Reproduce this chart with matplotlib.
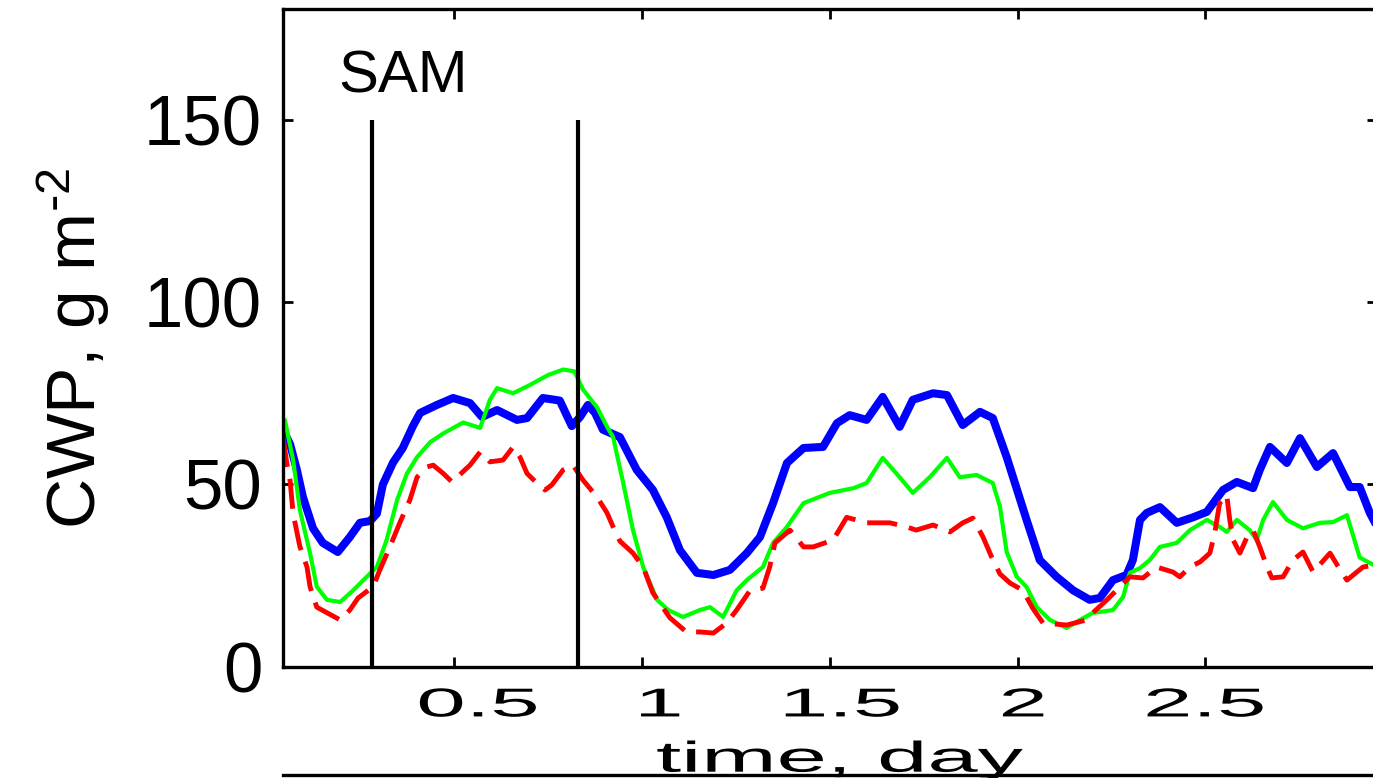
import matplotlib
matplotlib.use('Agg')
from matplotlib import pyplot as plt
from matplotlib.lines import Line2D
from matplotlib.patheffects import AbstractPathEffect
from matplotlib.transforms import Affine2D, ScaledTranslation

plt.rcParams['font.family'] = ['Liberation Sans', 'DejaVu Sans']
plt.rcParams['mathtext.default'] = 'regular'

# cloud water path (g m^-2) against time (days)
t_blue = [0.044, 0.063, 0.081, 0.097, 0.124, 0.150, 0.190, 0.222, 0.249, 0.276,
          0.294, 0.310, 0.337, 0.363, 0.390, 0.409, 0.454, 0.497, 0.542, 0.574,
          0.614, 0.667, 0.694, 0.736, 0.781, 0.813, 0.835, 0.856, 0.875, 0.896,
          0.941, 0.986, 1.029, 1.066, 1.101, 1.146, 1.190, 1.234, 1.279, 1.314,
          1.349, 1.386, 1.430, 1.482, 1.519, 1.553, 1.598, 1.641, 1.686, 1.721,
          1.775, 1.812, 1.854, 1.900, 1.934, 1.971, 1.988, 2.024, 2.059, 2.104,
          2.148, 2.192, 2.219, 2.254, 2.290, 2.307, 2.326, 2.344, 2.379, 2.424,
          2.467, 2.504, 2.547, 2.584, 2.627, 2.645, 2.672, 2.717, 2.752, 2.797,
          2.840, 2.885, 2.911, 2.938, 2.957]
cwp_blue = [65, 61, 54, 46.6, 38, 34, 31.5, 35.6, 39.5, 40,
            42, 50, 56, 60, 66, 69.6, 71.8, 73.7, 72.3, 68.5,
            70.4, 67.7, 68.2, 73.7, 73, 66, 68.5, 71.8, 69.6, 65,
            63, 54, 48.5, 41, 32, 25.8, 25.2, 26.6, 31.2, 35.6,
            44.9, 55.9, 60, 60.3, 66.8, 69, 67.7, 74, 65.8, 73.2,
            75, 74.5, 66.3, 69.9, 68.2, 57.5, 52, 40.3, 29.3, 24.7,
            21, 18.4, 18.9, 23.8, 25.2, 29.3, 40.3, 42.2, 43.8, 39.5,
            41, 42.5, 48.5, 50.7, 49, 54, 60.3, 55.9, 62.7, 54.8,
            58.6, 49.3, 49.3, 42.2, 38.5]

t_green = [0.044, 0.049, 0.071, 0.089, 0.116, 0.134, 0.161, 0.196, 0.231, 0.267,
           0.294, 0.320, 0.348, 0.374, 0.401, 0.436, 0.471, 0.524, 0.569, 0.595,
           0.614, 0.657, 0.702, 0.750, 0.790, 0.820, 0.843, 0.880, 0.907, 0.923,
           0.950, 0.976, 1.003, 1.040, 1.070, 1.109, 1.154, 1.181, 1.216, 1.252,
           1.279, 1.322, 1.349, 1.386, 1.430, 1.500, 1.563, 1.598, 1.641, 1.686,
           1.721, 1.766, 1.812, 1.846, 1.891, 1.934, 1.953, 1.971, 1.998, 2.024,
           2.051, 2.086, 2.131, 2.166, 2.200, 2.254, 2.281, 2.299, 2.326, 2.352,
           2.379, 2.424, 2.459, 2.504, 2.538, 2.557, 2.584, 2.618, 2.637, 2.654,
           2.680, 2.717, 2.760, 2.805, 2.840, 2.877, 2.911, 2.938, 2.957]
cwp_green = [68, 67.7, 56.7, 43, 31.2, 22, 18.4, 17.8, 21, 24.7,
             27.4, 34.8, 45.8, 53, 57.5, 61.6, 64, 67, 65.5, 73.2,
             76.4, 75, 77.3, 80, 81.5, 81, 76, 71.2, 65.8, 63,
             50.4, 37.5, 27.4, 18.4, 15.6, 13.7, 15.6, 16.4, 13.7, 21,
             23.8, 27.4, 34, 38.4, 44.9, 47.7, 49, 50.4, 57.3, 52,
             47.7, 52, 57.3, 52, 52.6, 50.4, 44, 31.5, 24.7, 21.9,
             16.4, 12.9, 10.7, 12.9, 14.8, 15.6, 19.2, 25.8, 27.1, 29.3,
             32.9, 34, 37.5, 40.3, 38.4, 37, 40.3, 37.5, 34.8, 40.3,
             45.2, 40.3, 38, 39.5, 39.7, 41.6, 30, 28.5, 27.5]

t_red = [0.044, 0.054, 0.063, 0.071, 0.089, 0.108, 0.116, 0.134, 0.148, 0.196,
         0.222, 0.244, 0.284, 0.302, 0.329, 0.355, 0.382, 0.401, 0.427, 0.444,
         0.471, 0.494, 0.542, 0.569, 0.595, 0.630, 0.657, 0.675, 0.694, 0.720,
         0.742, 0.760, 0.790, 0.816, 0.843, 0.880, 0.907, 0.923, 0.941, 0.976,
         1.003, 1.029, 1.074, 1.118, 1.154, 1.190, 1.225, 1.252, 1.288, 1.322,
         1.340, 1.354, 1.394, 1.430, 1.456, 1.509, 1.545, 1.598, 1.660, 1.704,
         1.730, 1.775, 1.820, 1.854, 1.881, 1.908, 1.931, 1.953, 1.980, 2.014,
         2.041, 2.068, 2.131, 2.184, 2.200, 2.238, 2.272, 2.299, 2.334, 2.370,
         2.414, 2.432, 2.459, 2.486, 2.512, 2.525, 2.538, 2.557, 2.565, 2.574,
         2.592, 2.611, 2.627, 2.645, 2.664, 2.677, 2.707, 2.733, 2.760, 2.787,
         2.832, 2.859, 2.877, 2.920, 2.957]
cwp_red = [63, 56, 51, 42, 33, 27.4, 22, 16.4, 15.6, 12.9,
           15.6, 18.9, 22, 26.6, 33, 39.5, 45.8, 52, 54.8, 55.3,
           53, 50.7, 55.3, 58.9, 56.2, 56.7, 60.3, 57.5, 53, 50.4,
           48.5, 49.9, 54, 55.3, 51.2, 46.6, 42.2, 38.4, 34.5, 31.2,
           27.4, 20.3, 13.5, 9.6, 9.6, 9.3, 12, 15.6, 21, 21.6,
           27.4, 34, 37.5, 32.9, 32.9, 34.8, 41, 39.5, 39.5, 38.4,
           37.5, 38.9, 37, 39.5, 40.8, 35.6, 30.1, 25.5, 23, 21,
           16, 12, 11.5, 12.9, 14.8, 18.4, 21.9, 24.7, 24.4, 27.4,
           26, 24.7, 27.4, 28.8, 31.2, 36.7, 44.9, 47.1, 40.3, 34.8,
           31.2, 35.6, 37.5, 32.9, 27.4, 24.4, 24.7, 29.3, 31.5, 26,
           31.2, 26.6, 23.8, 27.4, 28]

sam_window = [0.28, 0.83]
xticks = [0.5, 1, 1.5, 2, 2.5]
xtick_labels = ['0.5', '1', '1.5', '2', '2.5']
yticks = [0, 50, 100, 150]


class Stretch(AbstractPathEffect):
    """Draw text glyphs widened horizontally about their own centre."""

    def __init__(self, sx):
        super().__init__()
        self.sx = sx

    def draw_path(self, renderer, gc, tpath, affine, rgbFace=None):
        ext = tpath.get_extents()
        cx = 0.5 * (ext.x0 + ext.x1)
        widen = Affine2D().translate(-cx, 0).scale(self.sx, 1).translate(cx, 0)
        renderer.draw_path(gc, tpath, widen + affine, rgbFace)


fig = plt.figure(figsize=(13.73, 7.78), dpi=100)
ax = fig.add_axes([0.2061, 0.1427, 0.7968, 0.8458])

ax.plot(t_blue, cwp_blue, color='#0000ff', lw=5.8)
ax.plot(t_green, cwp_green, color='#00ff00', lw=3.0)
ax.plot(t_red, cwp_red, color='#ff0000', lw=3.5, dashes=(6.2, 2.5))
ax.vlines(sam_window, 0, 150, color='k', lw=3)
ax.text(0.19, 157.5, 'SAM', fontsize=43)

ax.set_xlim(0.044, 2.957)
ax.set_ylim(0, 180.3)
ax.set_xticks(xticks, xtick_labels)
ax.set_yticks(yticks)
ax.tick_params(direction='in', length=7, width=2, top=True, right=True)
ax.tick_params(axis='y', labelsize=51, pad=15)
ax.tick_params(axis='x', labelsize=29, pad=14)
for sp in ax.spines.values():
    sp.set_linewidth(2.4)

# x labels are wide-set and drift right of their ticks toward the left end
for tick, x in zip(ax.xaxis.get_major_ticks(), xticks):
    shift = (29.75 - 12.1 * x) / fig.dpi
    tick.label1.set_transform(tick.label1.get_transform()
                              + ScaledTranslation(shift, 0, fig.dpi_scale_trans))
    tick.label1.set_path_effects([Stretch(2.2)])

ax.set_ylabel(r'CWP, g m$^{\text{-}2}$', fontsize=50)
ax.yaxis.set_label_coords(-0.156, 0.485)
ax.set_xlabel('time, day', fontsize=31)
ax.xaxis.set_label_coords(0.509, -0.112)
ax.xaxis.label.set_path_effects([Stretch(2.1)])

# top edge of the panel underneath
fig.add_artist(Line2D([0.2061, 1.0], [0.004, 0.004], transform=fig.transFigure,
                      color='k', lw=2.4))

fig.savefig('out.png', dpi=100)
